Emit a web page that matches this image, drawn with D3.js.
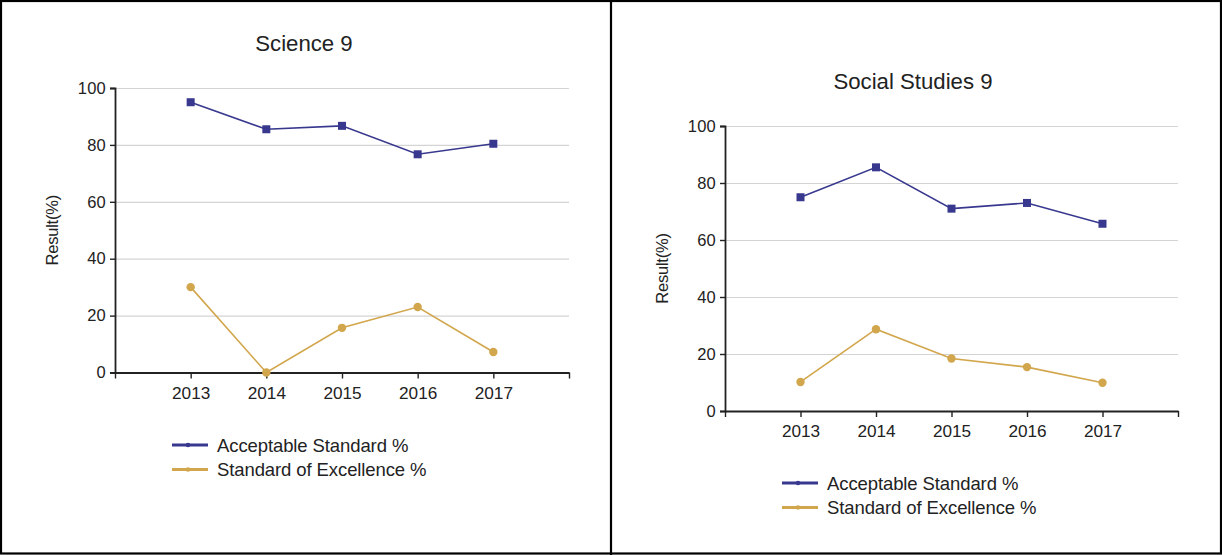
<!DOCTYPE html>
<html><head><meta charset="utf-8">
<script src="https://cdn.jsdelivr.net/npm/d3@7"></script>
<style>
body{margin:0;background:#fff;}
svg{display:block;font-family:"Liberation Sans",Arial,sans-serif;}
</style></head>
<body><svg id="c" width="1222" height="555"></svg>
<script>
const years = ["2013","2014","2015","2016","2017"];
const yTicks = [0,20,40,60,80,100];
const seriesNames = ["Acceptable Standard %","Standard of Excellence %"];
const scienceTitle = "Science 9";
const scienceAcceptable = [95, 85.5, 86.7, 76.7, 80.4];
const scienceExcellence = [30, 0, 15.7, 23, 7.2];
const socialTitle = "Social Studies 9";
const socialAcceptable = [75, 85.5, 71, 73, 65.7];
const socialExcellence = [10.2, 28.7, 18.4, 15.4, 9.9];
const colors = ["#38388f", "#d2a64c"];

const svg = d3.select("#c");
// frame
svg.append("rect").attr("x",1).attr("y",1).attr("width",1220).attr("height",552.5)
  .attr("fill","none").attr("stroke","#000").attr("stroke-width",2.2);
svg.append("line").attr("x1",611).attr("x2",611).attr("y1",0).attr("y2",555)
  .attr("stroke","#000").attr("stroke-width",2.2);

function drawChart(cfg){
  const g = svg.append("g");
  const x = d3.scalePoint().domain(["", ...years, " "]).range([cfg.left, cfg.right]);
  const y = d3.scaleLinear().domain([0,100]).range([cfg.bottom, cfg.top]);
  // title
  g.append("text").attr("x",cfg.cx).attr("y",cfg.titleY).attr("text-anchor","middle")
    .attr("font-size",22.2).attr("fill","#222").text(cfg.title);
  // gridlines
  g.append("g").selectAll("line").data(yTicks.filter(d=>d>0)).join("line")
    .attr("x1",cfg.left).attr("x2",cfg.right).attr("y1",d=>y(d)+0.5).attr("y2",d=>y(d)+0.5)
    .attr("stroke","#d4d4d4").attr("stroke-width",1.2);
  // y axis
  const ya = g.append("g").attr("transform",`translate(${cfg.left},0)`)
    .call(d3.axisLeft(y).tickValues(yTicks).tickSize(5).tickPadding(4));
  ya.select(".domain").attr("stroke","#222").attr("stroke-width",1.8);
  ya.selectAll(".tick line").attr("stroke","#222").attr("stroke-width",1.4);
  ya.selectAll(".tick text").attr("font-size",16.5).attr("fill","#222")
    .attr("font-family","Liberation Sans, Arial, sans-serif").attr("letter-spacing","0.2");
  // x axis
  const xa = g.append("g").attr("transform",`translate(0,${cfg.bottom})`)
    .call(d3.axisBottom(x).tickSize(6).tickPadding(8).tickSizeOuter(0));
  xa.select(".domain").attr("stroke","#222").attr("stroke-width",2.2);
  xa.selectAll(".tick line").attr("stroke","#222").attr("stroke-width",1.4);
  xa.selectAll(".tick text").attr("font-size",17.2).attr("fill","#222")
    .attr("font-family","Liberation Sans, Arial, sans-serif").attr("letter-spacing","0");
  // y label
  g.append("text").attr("transform",`translate(${cfg.labelX},${(cfg.top+cfg.bottom)/2}) rotate(-90)`)
    .attr("text-anchor","middle").attr("dy","0.35em").attr("font-size",16.5).attr("fill","#222")
    .attr("letter-spacing","-0.2").text("Result(%)");
  const line = d3.line().x((d,i)=>x(years[i])).y(d=>y(d));
  // excellence
  g.append("path").datum(cfg.exc).attr("d",line).attr("fill","none")
    .attr("stroke",colors[1]).attr("stroke-width",1.6);
  g.append("g").selectAll("circle").data(cfg.exc).join("circle")
    .attr("cx",(d,i)=>x(years[i])).attr("cy",d=>y(d)).attr("r",4.2).attr("fill",colors[1]);
  // acceptable
  g.append("path").datum(cfg.acc).attr("d",line).attr("fill","none")
    .attr("stroke",colors[0]).attr("stroke-width",1.6);
  g.append("g").selectAll("rect").data(cfg.acc).join("rect")
    .attr("x",(d,i)=>x(years[i])-4).attr("y",d=>y(d)-4).attr("width",8).attr("height",8)
    .attr("fill",colors[0]);
  // legend
  const lg = g.append("g");
  seriesNames.forEach((n,i)=>{
    const ly = cfg.legendY + i*24.5;
    lg.append("line").attr("x1",cfg.legendX).attr("x2",cfg.legendX+36).attr("y1",ly).attr("y2",ly)
      .attr("stroke",colors[i]).attr("stroke-width",3);
    lg.append("circle").attr("cx",cfg.legendX+16).attr("cy",ly).attr("r",2.3).attr("fill",colors[i]);
    lg.append("text").attr("x",cfg.legendX+45).attr("y",ly).attr("dy","0.36em")
      .attr("font-size",18.5).attr("fill","#222").attr("letter-spacing","-0.1").text(n);
  });
}

drawChart({title:scienceTitle, acc:scienceAcceptable, exc:scienceExcellence,
  left:115, right:569, top:88, bottom:372.5, cx:304, titleY:51, labelX:52,
  legendX:172, legendY:445});
drawChart({title:socialTitle, acc:socialAcceptable, exc:socialExcellence,
  left:725, right:1178, top:126, bottom:411, cx:913, titleY:89, labelX:662,
  legendX:782, legendY:483});
</script></body></html>
